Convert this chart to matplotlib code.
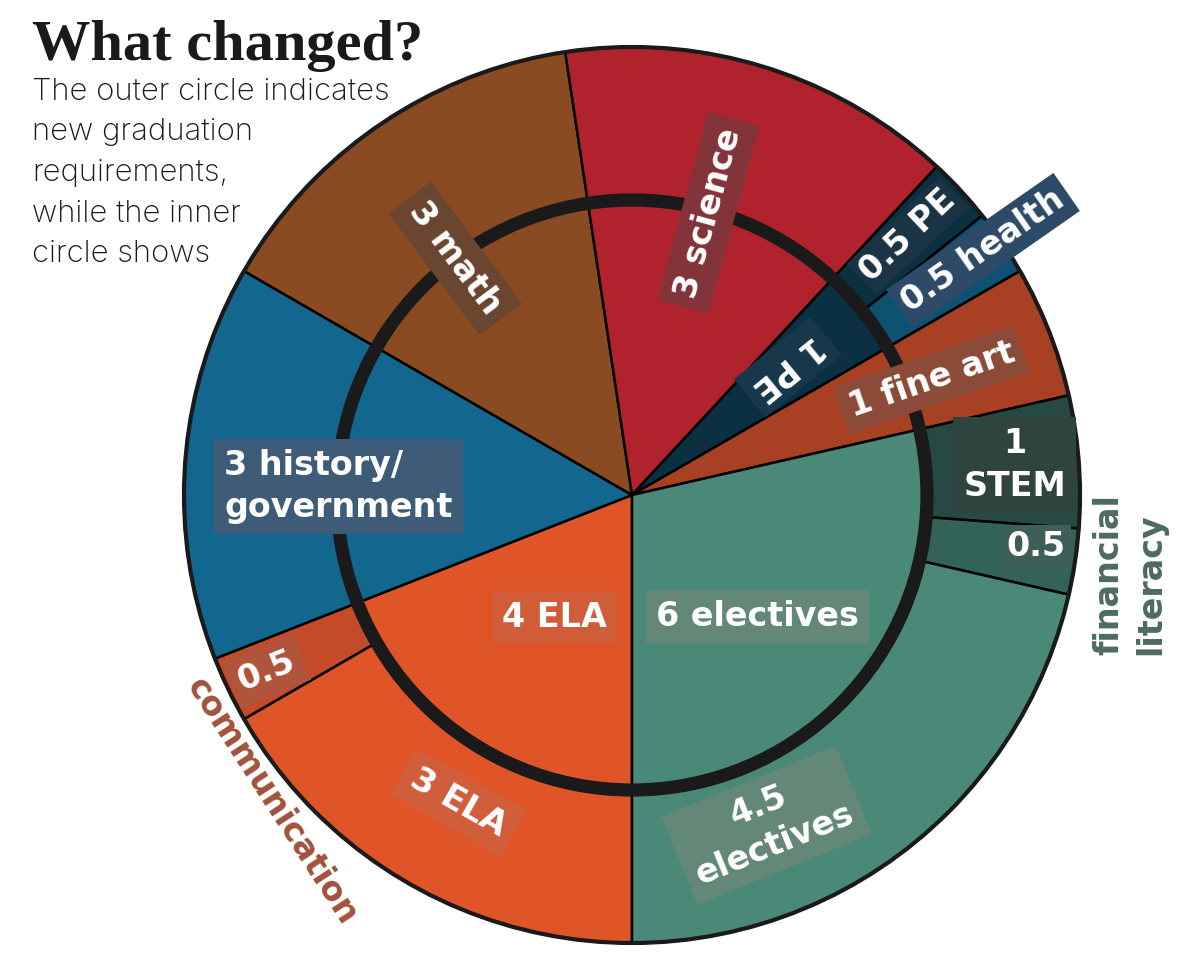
import matplotlib
matplotlib.use('Agg')
import matplotlib.pyplot as plt
from matplotlib.patches import Circle
import numpy as np

# ------------------------------------------------------------------
# data: credits required, inner circle = old, outer circle = new
# ------------------------------------------------------------------
inner_names = ['ELA', 'history/government', 'math', 'science', 'PE', 'fine art', 'electives']
inner_values = [4, 3, 3, 3, 1, 1, 6]
inner_colors = ['#E05528', '#13668E', '#8A4A22', '#B0232C', '#0A3042', '#A84024', '#4A8878']

outer_names = ['ELA', 'communication', 'history/government', 'math', 'science', 'PE',
               'health', 'fine art', 'STEM', 'financial literacy', 'electives']
outer_values = [3.5, 0.5, 3, 3, 3, 0.5, 0.5, 1, 1, 0.5, 4.5]
outer_colors = ['#E05528', '#C44A28', '#13668E', '#8A4A22', '#B0232C', '#0A3042',
                '#0E5170', '#A84024', '#274943', '#336356', '#4A8878']

title = 'What changed?'
subtitle = ['The outer circle indicates', 'new graduation', 'requirements,',
            'while the inner', 'circle shows']

# label: (ring, slice index, text, radius, angle offset, rotation mode, box colour, pad)
labels = [
    ('inner', 0, '4 ELA', 0.324, 2.0, 0, '#D05C38', 0.3),
    ('inner', 1, '3 history/\ngovernment', 0.655, 2.7, 0, '#3E5C78', 0.3),
    ('inner', 2, '3 math', 0.66, 2.5, 'in', '#6A4530', 0.3),
    ('inner', 3, '3 science', 0.652, 2.0, 'out', '#83333A', 0.3),
    ('inner', 4, '1 PE', 0.45, 0.8, 'in', '#17374A', 0.25),
    ('inner', 5, '1 fine art', 0.717, -0.4, 19, '#8C4A38', 0.25),
    ('inner', 6, '6 electives', 0.39, -5.7, 0, '#648878', 0.3),
    ('outer', 0, '3 ELA', 0.788, 0.5, 'tan', '#D05E3A', 0.3),
    ('outer', 1, '0.5', 0.905, 0.0, 22, '#B0553C', 0.25),
    ('outer', 5, '0.5 PE', 0.845, 0.4, 'out', '#1A3345', 0.15),
    ('outer', 6, '0.5 health', 0.955, 0.6, 'out', '#2D4B68', 0.2),
    ('outer', 8, '1\nSTEM', 0.857, 0.2, 0, '#30443F', 0.3),
    ('outer', 9, '0.5', 0.91, 1.3, 0, '#3E5F57', 0.15),
    ('outer', 10, '4.5\nelectives', 0.796, -16.4, 'tan', '#648878', 0.3),
]
outside = [
    ('outer', 1, 'communication', 1.055, 14.7, -57, '#A0523C'),
    ('outer', 9, 'financial\nliteracy', 1.125, -0.5, 90, '#4D6B61'),
]

# ------------------------------------------------------------------
# layout (pixels of the 1200x960 canvas)
# ------------------------------------------------------------------
W, H = 1200, 960
CX, CY, R = 632, 495, 448
R_IN = 295 / R

fig = plt.figure(figsize=(W / 100, H / 100), dpi=100)
ax = fig.add_axes([0, 0, 1, 1])

outer_wedges, _ = ax.pie(outer_values, radius=1, startangle=-90, counterclock=False,
                         colors=outer_colors,
                         wedgeprops=dict(width=1 - R_IN, edgecolor='black', linewidth=1.8))
inner_wedges, _ = ax.pie(inner_values, radius=R_IN, startangle=-90, counterclock=False,
                         colors=inner_colors,
                         wedgeprops=dict(edgecolor='black', linewidth=1.8))

ax.add_patch(Circle((0, 0), R_IN, fill=False, lw=9.5, ec='#1a1a1a', zorder=3))
ax.add_patch(Circle((0, 0), 1, fill=False, lw=3, ec='#1a1a1a', zorder=3))

ax.set_xlim(-CX / R, (W - CX) / R)
ax.set_ylim(-(H - CY) / R, CY / R)
ax.set_aspect('auto')
ax.axis('off')


def mid_angle(ring, idx):
    w = (inner_wedges if ring == 'inner' else outer_wedges)[idx]
    return (w.theta1 + w.theta2) / 2


for ring, idx, txt, r, off, rot, box, pad in labels:
    a = mid_angle(ring, idx) + off
    if a > 180:
        a -= 360
    if rot == 'out':
        rot = a
    elif rot == 'in':
        rot = a + 180
    elif rot == 'tan':
        rot = a + 90
    ax.text(r * np.cos(np.radians(a)), r * np.sin(np.radians(a)), txt,
            ha='center', va='center', rotation=rot, rotation_mode='anchor',
            color='white', fontsize=24, fontweight='bold', family='DejaVu Sans',
            multialignment='left' if 'history' in txt else 'center',
            linespacing=1.35,
            bbox=dict(boxstyle='square,pad=%s' % pad, fc=box, ec='none'), zorder=5)

for ring, idx, txt, r, off, rot, col in outside:
    a = mid_angle(ring, idx) + off
    ax.text(r * np.cos(np.radians(a)), r * np.sin(np.radians(a)), txt,
            ha='center', va='center', rotation=rot, rotation_mode='anchor',
            color=col, fontsize=24, fontweight='bold', family='DejaVu Sans',
            multialignment='left', linespacing=1.35, zorder=5)

# title + subtitle
fig.text(32 / W, 1 - 60 / H, title, ha='left', va='baseline',
         family='Liberation Serif', fontweight='bold', fontsize=42, color='#1a1a1a')
for i, line in enumerate(subtitle):
    fig.text(32 / W, 1 - (100 + i * 40.5) / H, line, ha='left', va='baseline',
             family='Inter', fontweight='light', fontsize=22.4, color='#1a1a1a')

fig.savefig('out.png', dpi=100)
